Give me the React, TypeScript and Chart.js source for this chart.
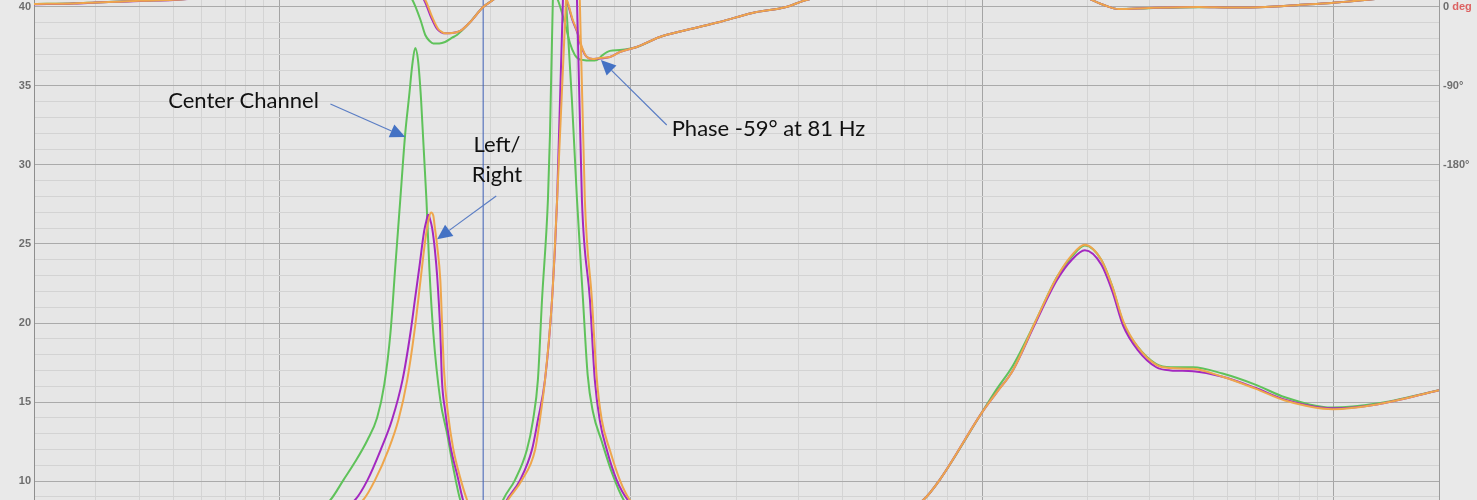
import React, { useEffect, useRef } from 'react';
import { Chart, registerables } from 'chart.js';

Chart.register(...registerables);

// ---------- axes ----------
const FREQ_MIN = 2;
const FREQ_MAX = 20000;
const FREQ_DECADES = [1, 10, 100, 1000, 10000];
const FREQ_STEPS = [1, 2, 3, 4, 5, 6, 7, 8, 9];
const OHM_MIN = 8.8;
const OHM_MAX = 40.44;
const OHM_MAJOR = [10, 15, 20, 25, 30, 35, 40];
const OHM_MINOR = [9, 10, 11, 12, 13, 14, 15, 16, 17, 18, 19, 20, 21, 22, 23, 24, 25, 26, 27, 28, 29, 30, 31, 32, 33, 34, 35, 36, 37, 38, 39, 40];
const DEG_MIN = -561.6;
const DEG_MAX = 7.97;
const DEG_TICKS = [0, -90, -180];
const DEG_LABELS = ['0', '-90°', '-180°'];
const CURSOR_HZ = 38;

// ---------- impedance (ohm) ----------
const CENTER_IMP_HZ = [2, 5, 10, 12.5, 13.96, 15.2, 16.4, 17.8, 18.96, 19.87, 20.7, 21.35, 22.07, 22.8, 23.4, 23.87, 24.34, 24.8, 25.3, 26.2, 26.7, 27.4, 28.7, 30.0, 31.2, 32.7, 36, 38, 41, 43.3, 46.8, 50.6, 52.7, 54.4, 55.9, 58.1, 58.9, 60.0, 62.5, 65.4, 68.0, 70.3, 73.1, 75.4, 78.0, 82.7, 88.8, 95.5, 110, 150, 250, 400, 550, 680, 757, 997, 1100, 1224, 1413, 1633, 1802, 1962, 2185, 2350, 2525, 2773, 3135, 3445, 3990, 4840, 6000, 7290, 9970, 13300, 20000];
const CENTER_IMP_OHM = [6.2, 6.3, 6.9, 7.9, 8.8, 10.06, 11.2, 12.6, 14.0, 16.1, 19.4, 23.5, 27.8, 32.0, 34.4, 36.3, 37.4, 36.6, 34.1, 27.8, 23.5, 19.4, 15.1, 13.0, 10.9, 8.8, 6.9, 6.6, 7.2, 8.8, 10.06, 11.96, 13.86, 16.4, 21.5, 27.8, 32.0, 40.4, 48, 40.4, 34.1, 27.8, 21.5, 16.7, 14.4, 12.5, 10.4, 8.8, 7.6, 6.9, 6.6, 6.9, 7.8, 8.8, 10.06, 14.3, 15.8, 17.3, 20.0, 22.9, 24.2, 24.9, 24.0, 22.3, 20.0, 18.5, 17.4, 17.2, 17.2, 16.8, 16.1, 15.3, 14.65, 14.9, 15.75];

const LEFT_IMP_HZ = [2, 5, 10, 14, 16.4, 17.8, 19.4, 20.9, 22.4, 23.6, 24.3, 25.0, 25.8, 26.15, 26.5, 26.8, 27.2, 27.7, 28.1, 28.7, 29.0, 29.6, 30.6, 32.2, 33.3, 36, 38, 41, 44.4, 48.4, 52.3, 54.4, 57.0, 59.7, 61.7, 64.1, 67.1, 70.3, 72.6, 76.5, 79.0, 81.6, 85.5, 91.2, 98.1, 115, 150, 250, 400, 550, 680, 757, 997, 1100, 1224, 1413, 1633, 1802, 1962, 2185, 2350, 2525, 2773, 3135, 3445, 3990, 4840, 6000, 7290, 9970, 13300, 20000];
const LEFT_IMP_OHM = [6.3, 6.4, 7.0, 7.9, 8.8, 10.06, 11.96, 13.86, 16.4, 19.4, 21.5, 23.5, 25.8, 26.4, 26.85, 26.6, 26.0, 24.6, 23.0, 19.4, 16.4, 14.5, 12.3, 10.2, 8.8, 7.2, 6.7, 7.3, 8.8, 10.06, 11.96, 13.86, 16.4, 21.5, 27.8, 40.4, 50, 40.4, 27.8, 21.5, 16.4, 13.86, 11.96, 10.06, 8.8, 7.6, 7.0, 6.7, 7.0, 7.8, 8.8, 10.06, 14.3, 15.6, 17.0, 19.9, 22.7, 24.0, 24.6, 23.7, 22.0, 19.8, 18.3, 17.2, 17.0, 16.95, 16.6, 15.9, 15.15, 14.6, 14.85, 15.75];

const RIGHT_IMP_HZ = [2, 5, 10, 14.5, 17.3, 18.7, 20.4, 21.8, 23.1, 24.2, 25.2, 26.0, 26.5, 27.0, 27.4, 27.7, 28.1, 28.7, 29.0, 29.4, 30.2, 31.2, 32.7, 34.2, 36.5, 38, 41, 44.7, 49.0, 53.4, 55.1, 57.0, 59.7, 61.7, 65.4, 68.0, 71.6, 74.0, 77.5, 80.1, 82.7, 87.2, 93.1, 99.4, 115, 150, 250, 400, 550, 680, 757, 997, 1100, 1224, 1413, 1633, 1802, 1962, 2185, 2350, 2525, 2773, 3135, 3445, 3990, 4840, 6000, 7290, 9970, 13300, 20000];
const RIGHT_IMP_OHM = [6.3, 6.4, 7.0, 7.8, 8.8, 10.06, 11.96, 13.86, 16.4, 19.4, 22.7, 25.25, 26.4, 27.0, 26.8, 26.0, 24.9, 22.7, 20.2, 17.0, 14.2, 12.1, 10.2, 8.8, 7.4, 6.9, 7.3, 8.8, 10.06, 11.96, 13.86, 16.4, 21.5, 27.8, 40.4, 50, 40.4, 27.8, 21.5, 16.4, 13.86, 11.96, 10.06, 8.8, 7.7, 7.0, 6.7, 7.0, 7.8, 8.8, 10.06, 14.3, 15.6, 17.0, 20.0, 22.9, 24.3, 24.95, 24.0, 22.3, 20.1, 18.5, 17.35, 17.15, 17.1, 16.6, 15.85, 15.1, 14.55, 14.85, 15.75];

// ---------- phase (deg) ----------
const CENTER_PH_HZ = [2, 2.6, 3, 3.5, 4, 5, 6, 8, 12, 17, 20, 22, 23.9, 25.2, 26.0, 26.8, 27.4, 28.5, 29.6, 31, 32, 33, 34.9, 38, 40.5, 45, 52, 57, 60, 62, 64.9, 67.1, 69.3, 71, 73.1, 77, 80.1, 83, 87.2, 93.1, 104, 121, 144, 179, 222, 277, 316, 500, 800, 1200, 1600, 1850, 2054, 2221, 2449, 2982, 4135, 5130, 6410, 7955, 9870, 12300, 20000];
const CENTER_PH_DEG = [3.4, 4.2, 5.2, 6.2, 7.0, 8.2, 10.5, 15, 24, 32, 32, 24, 8, -14.8, -31.9, -39, -41.5, -41.5, -39.9, -35, -31.9, -27, -17.1, 0, 8, 22, 30, 27, 18, 8, -18.2, -41.0, -54.7, -59, -60.4, -61, -60.4, -55, -50, -49, -45.6, -34.2, -26.2, -17.1, -6.8, 0, 8, 20, 28, 30, 28, 18, 8, 2.3, -2.3, -1.3, -0.2, -0.6, 0, 2.3, 4.6, 8, 16];

const LEFT_PH_HZ = [2, 2.6, 3, 3.5, 4, 5, 6, 8, 12, 17, 21, 24, 25.8, 27.0, 28.1, 28.9, 29.6, 31, 32.7, 34.9, 38, 40.5, 45, 52, 59, 63, 65.6, 68.2, 70.5, 72.4, 75, 78, 81.6, 87.2, 93.1, 104, 121, 144, 179, 222, 277, 316, 500, 800, 1200, 1600, 1850, 2054, 2221, 2449, 2982, 4135, 5130, 6410, 7955, 9870, 12300, 20000];
const LEFT_PH_DEG = [3.2, 4.0, 5.0, 6.0, 6.9, 8.1, 10.3, 15, 23, 30, 30, 22, 8, -11.4, -25.1, -28.8, -30.0, -29.6, -27.3, -17.1, 0, 8, 24, 32, 28, 18, 8, -14.8, -29.6, -45.6, -57.0, -59.2, -58.8, -57.0, -51.3, -45.6, -34.2, -26.2, -17.1, -6.8, 0, 8, 20, 28, 30, 28, 18, 8, 2.3, -2.3, -1.1, 0, -0.6, 0, 2.3, 4.6, 8, 16];

const RIGHT_PH_HZ = [2, 2.6, 3, 3.5, 4, 5, 6, 8, 12, 17, 21, 24, 26, 27.2, 28.3, 29.0, 29.6, 31, 32.7, 34.9, 38, 40.5, 45, 52, 59, 63, 65.8, 68.4, 70.7, 72.6, 75, 78, 81.6, 87.2, 93.1, 104, 121, 144, 179, 222, 277, 316, 500, 800, 1200, 1600, 1850, 2054, 2221, 2449, 2982, 4135, 5130, 6410, 7955, 9870, 12300, 20000];
const RIGHT_PH_DEG = [3.4, 4.1, 5.1, 6.1, 7.0, 8.2, 10.4, 15, 23, 30, 30, 22, 8, -11.4, -25.1, -28.5, -29.8, -29.6, -27.3, -17.1, 0, 8, 24, 32, 28, 18, 8, -14.8, -29.6, -45.6, -57.0, -59.2, -58.1, -57.0, -51.3, -45.6, -34.2, -26.2, -17.1, -6.8, 0, 8, 20, 28, 30, 28, 18, 8, 2.3, -2.3, -1.1, 0, -0.6, 0, 2.3, 4.6, 8, 16];

// ---------- annotations (in Hz / ohm) ----------
const NOTE_TEXT = ['Center Channel', 'Left/', 'Right', 'Phase -59° at 81 Hz'];
const NOTE_HZ = [7.9, 41.6, 41.6, 130.8];
const NOTE_OHM = [34.05, 31.27, 29.37, 32.28];
const NOTE_ALIGN = ['center', 'center', 'center', 'left'];
const ARROW_FROM_HZ = [13.96, 41.4, 126.6];
const ARROW_FROM_OHM = [33.86, 28.04, 32.53];
const ARROW_TO_HZ = [22.8, 28.1, 82.2];
const ARROW_TO_OHM = [31.77, 25.3, 36.65];

const GREEN = '#5fc25a';
const PURPLE = '#a328c0';
const ORANGE = '#eea64c';

const zip = (xs: number[], ys: number[]) => xs.map((x, i) => ({ x, y: ys[i] }));

const X_GRID: number[] = [];
FREQ_DECADES.forEach((d) => FREQ_STEPS.forEach((m) => {
  const v = d * m;
  if (v >= FREQ_MIN && v <= FREQ_MAX) X_GRID.push(v);
}));
X_GRID.push(FREQ_MAX);

const bgPlugin = {
  id: 'bg',
  beforeDraw(chart: any) {
    const { ctx, chartArea } = chart;
    ctx.save();
    ctx.fillStyle = '#e9e9e9';
    ctx.fillRect(0, 0, chart.width, chart.height);
    ctx.fillStyle = '#e6e6e6';
    ctx.fillRect(chartArea.left, chartArea.top, chartArea.right - chartArea.left, chartArea.bottom - chartArea.top);
    ctx.restore();
  },
};

const notesPlugin = {
  id: 'notes',
  afterDraw(chart: any) {
    const { ctx } = chart;
    const xs = chart.scales.x;
    const ys = chart.scales.y;
    const ps = chart.scales.phase;
    ctx.save();
    // red "deg" unit next to the 0 tick
    ctx.font = 'bold 11px "Liberation Sans", Arial, sans-serif';
    ctx.textBaseline = 'middle';
    ctx.textAlign = 'left';
    const zx = ps.left + 4 + ctx.measureText('0 ').width;
    ctx.fillStyle = '#dc6262';
    ctx.fillText('deg', zx, ps.getPixelForValue(0));

    ctx.font = '22px Lato, "Open Sans", sans-serif';
    ctx.fillStyle = '#111111';
    ctx.textBaseline = 'middle';
    NOTE_TEXT.forEach((t, i) => {
      ctx.textAlign = NOTE_ALIGN[i];
      ctx.fillText(t, xs.getPixelForValue(NOTE_HZ[i]), ys.getPixelForValue(NOTE_OHM[i]));
    });

    ARROW_FROM_HZ.forEach((_, i) => {
      const x0 = xs.getPixelForValue(ARROW_FROM_HZ[i]);
      const y0 = ys.getPixelForValue(ARROW_FROM_OHM[i]);
      const x1 = xs.getPixelForValue(ARROW_TO_HZ[i]);
      const y1 = ys.getPixelForValue(ARROW_TO_OHM[i]);
      const ang = Math.atan2(y1 - y0, x1 - x0);
      const hl = 15;
      const hw = 7;
      const bx = x1 - hl * Math.cos(ang);
      const by = y1 - hl * Math.sin(ang);
      ctx.strokeStyle = '#5a7dc4';
      ctx.lineWidth = 1.2;
      ctx.beginPath();
      ctx.moveTo(x0, y0);
      ctx.lineTo(bx, by);
      ctx.stroke();
      ctx.fillStyle = '#4472c4';
      ctx.beginPath();
      ctx.moveTo(x1, y1);
      ctx.lineTo(bx + hw * Math.sin(ang), by - hw * Math.cos(ang));
      ctx.lineTo(bx - hw * Math.sin(ang), by + hw * Math.cos(ang));
      ctx.closePath();
      ctx.fill();
    });
    ctx.restore();
  },
};

const line = (label: string, data: any[], color: string, axis: string) => ({
  label,
  data,
  yAxisID: axis,
  borderColor: color,
  backgroundColor: color,
  borderWidth: 2,
  pointRadius: 0,
  fill: false,
  cubicInterpolationMode: 'monotone' as const,
});

export default function App() {
  const ref = useRef<HTMLCanvasElement | null>(null);
  useEffect(() => {
    if (!ref.current) return;
    const tickFont = { family: '"Liberation Sans", Arial, sans-serif', size: 11, weight: 'bold' as const };
    const chart = new Chart(ref.current, {
      type: 'line',
      data: {
        datasets: [
          line('Right impedance', zip(RIGHT_IMP_HZ, RIGHT_IMP_OHM), ORANGE, 'y'),
          line('Left impedance', zip(LEFT_IMP_HZ, LEFT_IMP_OHM), PURPLE, 'y'),
          line('Center impedance', zip(CENTER_IMP_HZ, CENTER_IMP_OHM), GREEN, 'y'),
          line('Right phase', zip(RIGHT_PH_HZ, RIGHT_PH_DEG), ORANGE, 'phase'),
          line('Left phase', zip(LEFT_PH_HZ, LEFT_PH_DEG), PURPLE, 'phase'),
          line('Center phase', zip(CENTER_PH_HZ, CENTER_PH_DEG), GREEN, 'phase'),
          {
            label: 'Cursor',
            data: [{ x: CURSOR_HZ, y: OHM_MIN }, { x: CURSOR_HZ, y: OHM_MAX }],
            yAxisID: 'y',
            borderColor: '#3d5fb5',
            borderWidth: 1,
            pointRadius: 0,
            fill: false,
          },
        ],
      },
      options: {
        responsive: false,
        animation: false,
        events: [],
        layout: { padding: 0, autoPadding: false },
        plugins: { legend: { display: false }, tooltip: { enabled: false } },
        scales: {
          x: {
            type: 'logarithmic',
            min: FREQ_MIN,
            max: FREQ_MAX,
            border: { display: false },
            ticks: { display: false },
            grid: {
              drawTicks: false,
              color: (c: any) => (FREQ_DECADES.includes(c.tick?.value) ? '#a4a4a4' : '#d4d4d4'),
            },
            afterBuildTicks: (s: any) => { s.ticks = X_GRID.map((v) => ({ value: v })); },
            afterFit: (s: any) => { s.height = 0; s.paddingLeft = 0; s.paddingRight = 0; s.paddingTop = 0; s.paddingBottom = 0; },
          },
          y: {
            type: 'linear',
            position: 'left',
            min: OHM_MIN,
            max: OHM_MAX,
            border: { display: true, color: '#8e8e8e' },
            grid: {
              drawTicks: false,
              color: (c: any) => (OHM_MAJOR.includes(c.tick?.value) ? '#aaaaaa' : '#d3d3d3'),
            },
            ticks: {
              autoSkip: false,
              padding: 3,
              color: '#6e6e6e',
              font: tickFont,
              callback: (v: any) => (OHM_MAJOR.includes(v) ? String(v) : ''),
            },
            afterBuildTicks: (s: any) => { s.ticks = OHM_MINOR.map((v) => ({ value: v })); },
            afterFit: (s: any) => { s.width = 34; s.paddingTop = 0; s.paddingBottom = 0; },
          },
          phase: {
            type: 'linear',
            position: 'right',
            min: DEG_MIN,
            max: DEG_MAX,
            border: { display: true, color: '#9c9c9c' },
            grid: { display: false, drawTicks: false },
            ticks: {
              autoSkip: false,
              padding: 4,
              color: '#6e6e6e',
              font: tickFont,
              callback: (v: any) => DEG_LABELS[DEG_TICKS.indexOf(v)] ?? '',
            },
            afterBuildTicks: (s: any) => { s.ticks = DEG_TICKS.map((v) => ({ value: v })); },
            afterFit: (s: any) => { s.width = 38; s.paddingTop = 0; s.paddingBottom = 0; },
          },
        },
      } as any,
      plugins: [bgPlugin, notesPlugin],
    });
    if ((document as any).fonts?.load) {
      (document as any).fonts.load('22px Lato').then(() => chart.update()).catch(() => {});
    }
    return () => chart.destroy();
  }, []);
  return (
    <div style={{ position: 'fixed', left: 0, top: 0, width: 1477, height: 500 }}>
      <canvas ref={ref} width={1477} height={500} style={{ display: 'block' }} />
    </div>
  );
}
